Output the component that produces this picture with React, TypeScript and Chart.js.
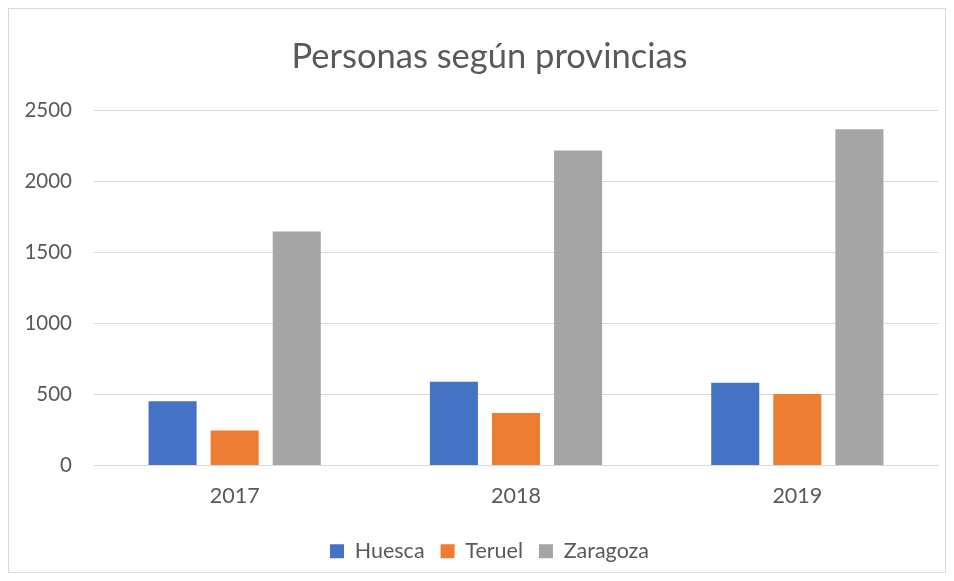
import React, { useEffect, useRef } from "react";
import { Chart, registerables } from "chart.js";

Chart.register(...registerables);

const years = ["2017", "2018", "2019"];
const huesca = [453, 589, 582];
const teruel = [247, 370, 504];
const zaragoza = [1647, 2217, 2368];
const seriesNames = ["Huesca", "Teruel", "Zaragoza"];
const seriesColors = ["#4472C4", "#ED7D31", "#A5A5A5"];
const chartTitle = "Personas según provincias";

const shiftBoxes = {
  id: "shiftBoxes",
  afterLayout(chart: any) {
    if (chart.legend) chart.legend.left += 32;
    if (chart.titleBlock) chart.titleBlock.left += 32;
  },
};

export default function App() {
  const ref = useRef<HTMLCanvasElement | null>(null);
  useEffect(() => {
    if (!ref.current) return;
    const font = "Lato, 'Open Sans', sans-serif";
    const chart = new Chart(ref.current, {
      type: "bar",
      data: {
        labels: years,
        datasets: [huesca, teruel, zaragoza].map((d, i) => ({
          label: seriesNames[i],
          data: d,
          backgroundColor: seriesColors[i],
          borderWidth: 0,
          categoryPercentage: 0.662,
          barPercentage: 0.774,
        })),
      },
      plugins: [shiftBoxes],
      options: {
        animation: false,
        responsive: true,
        maintainAspectRatio: false,
        layout: { padding: { left: 0, right: 7, top: 0, bottom: 0 } },
        plugins: {
          title: {
            display: true,
            text: chartTitle,
            color: "#595959",
            font: { family: font, size: 34.5, weight: "normal" },
            padding: { top: 27, bottom: 33 },
          },
          legend: {
            position: "bottom",
            labels: {
              color: "#595959",
              font: { family: font, size: 21.5 },
              boxWidth: 14,
              boxHeight: 14,
              padding: 16,
            },
          },
          tooltip: { enabled: false },
        },
        scales: {
          x: {
            afterFit: (s: any) => {
              s.height = 59;
            },
            grid: { display: false, drawTicks: false },
            border: { display: true, color: "#d9d9d9", width: 1 },
            ticks: { color: "#595959", font: { family: font, size: 21.5 }, padding: 17.5 },
          },
          y: {
            min: 0,
            max: 2500,
            afterFit: (s: any) => {
              s.width = 85;
            },
            grid: { color: "#d9d9d9", lineWidth: 1, drawTicks: false },
            border: { display: false },
            ticks: {
              stepSize: 500,
              color: "#595959",
              font: { family: font, size: 20.5 },
              padding: 22,
              callback: (v: any) => String(v),
            },
          },
        },
      } as any,
    });
    return () => chart.destroy();
  }, []);
  return (
    <div
      style={{
        width: 936,
        height: 563,
        border: "1px solid #d9d9d9",
        background: "#fff",
      }}
    >
      <canvas ref={ref} />
    </div>
  );
}
